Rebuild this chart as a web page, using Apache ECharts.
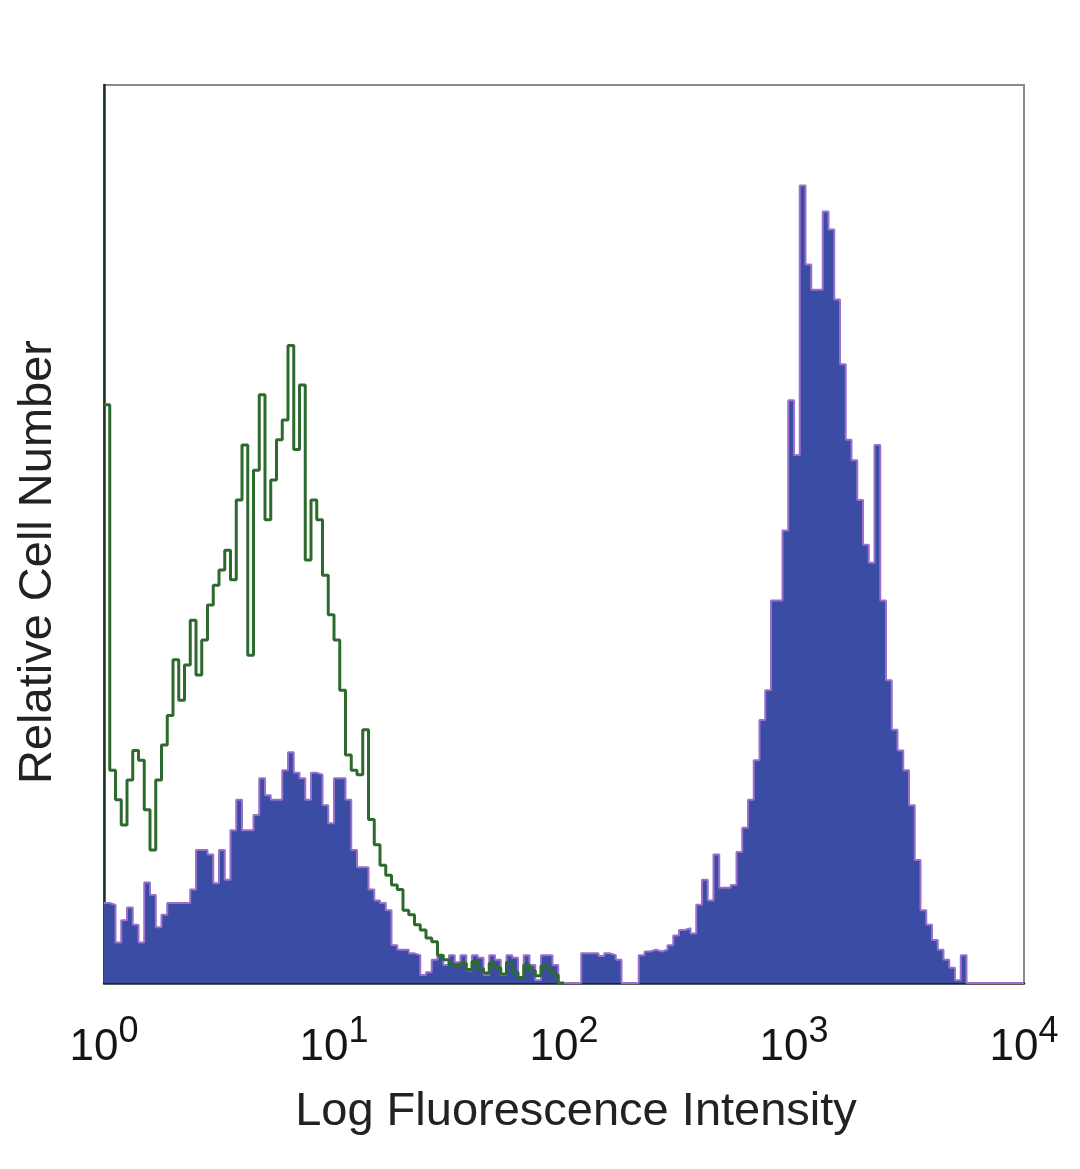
<!DOCTYPE html>
<html>
<head>
<meta charset="utf-8">
<script src="https://cdn.jsdelivr.net/npm/echarts@6/dist/echarts.min.js"></script>
<style>
html,body{margin:0;padding:0;background:#fff;}
#chart{width:1080px;height:1169px;}
</style>
</head>
<body>
<div id="chart"></div>
<script>
// Log decades on the x axis (10^0 .. 10^4), histogram bins of 0.025 decade
var decadeExponents = [0, 1, 2, 3, 4];
var binWidth = 0.025;
var xTitle = 'Log Fluorescence Intensity';
var yTitle = 'Relative Cell Number';

// Isotype control (green outline histogram), relative counts per bin
var controlCounts = [
  64.4, 23.7, 20.4, 17.6, 22.6, 25.9, 24.8, 19.3, 14.8, 22.6,
  26.5, 29.8, 36.0, 31.5, 35.4, 40.4, 34.3, 38.2, 42.1, 44.3,
  46.0, 48.2, 44.9, 53.8, 59.9, 36.5, 57.1, 65.5, 51.6, 56.0,
  60.5, 62.7, 71.0, 59.4, 66.6, 47.1, 53.8, 51.6, 45.4, 41.0,
  38.2, 32.6, 25.4, 23.7, 23.2, 28.2, 18.2, 15.4, 13.1, 12.0,
  10.9, 10.4, 8.1, 7.6, 6.5, 5.9, 5.0, 4.6, 3.1, 2.6,
  2.0, 1.8, 2.2, 1.5, 2.4, 1.6, 1.1, 2.2, 1.7, 1.0,
  2.3, 1.2, 0.6, 2.0, 1.4, 0.8, 1.9, 1.5, 0.9, 0
];

// Stained sample (blue filled histogram), relative counts per bin
var stainedCounts = [
  8.9, 8.7, 4.5, 7.0, 8.4, 6.5, 4.5, 11.2, 9.8, 6.2,
  7.6, 8.9, 8.9, 8.9, 8.9, 10.4, 14.8, 14.8, 14.3, 11.1,
  14.8, 11.5, 17.0, 20.4, 17.0, 17.0, 18.7, 22.8, 20.9, 20.4,
  20.4, 23.7, 25.7, 23.4, 22.8, 20.4, 23.4, 23.2, 19.8, 17.8,
  22.8, 22.8, 20.4, 14.8, 12.9, 12.9, 10.4, 9.2, 8.9, 8.1,
  4.2, 3.7, 3.7, 3.3, 3.1, 0.9, 1.2, 2.6, 3.1, 2.0,
  3.1, 2.3, 3.1, 1.4, 3.1, 2.8, 0.9, 3.1, 2.6, 0.9,
  3.1, 2.8, 0.6, 3.1, 2.0, 0.3, 3.1, 3.1, 2.0, 0,
  0, 0, 0, 3.3, 3.3, 3.3, 3.0, 3.3, 3.1, 2.6,
  0, 0, 0, 3.1, 3.5, 3.7, 3.5, 3.7, 4.2, 5.3,
  5.9, 6.1, 5.5, 8.7, 11.5, 9.2, 14.3, 10.6, 10.6, 10.9,
  14.6, 17.3, 20.4, 24.8, 29.3, 32.6, 42.6, 42.6, 50.4, 64.9,
  58.8, 88.8, 80.0, 77.2, 77.2, 85.9, 83.9, 76.1, 68.9, 60.5,
  58.2, 53.8, 48.8, 46.8, 59.9, 42.6, 33.7, 28.2, 25.9, 23.7,
  19.8, 13.7, 8.1, 6.5, 4.8, 3.7, 2.6, 1.7, 0.3, 3.1,
  0, 0, 0, 0, 0, 0, 0, 0, 0, 0
];

function toSteps(counts) {
  var pts = counts.map(function (v, i) { return [i * binWidth, v]; });
  pts.push([counts.length * binWidth, 0]);
  return pts;
}

var FONT = 'Liberation Sans';
var chart = echarts.init(document.getElementById('chart'), null, {renderer: 'canvas'});
chart.setOption({
  animation: false,
  backgroundColor: '#ffffff',
  grid: {left: 104, right: 56, top: 85, bottom: 186, show: true, borderColor: '#8a8a8a', borderWidth: 2, backgroundColor: 'transparent'},
  graphic: [
    {type: 'text', x: 576, y: 1089,
     style: {text: xTitle, font: '47px "Liberation Sans"', fill: '#222', align: 'center', verticalAlign: 'top'}},
    {type: 'text', x: 15, y: 562, rotation: Math.PI / 2,
     style: {text: yTitle, font: '47px "Liberation Sans"', fill: '#222', align: 'center', verticalAlign: 'top'}}
  ],
  xAxis: {
    type: 'value', min: 0, max: 4, interval: 1,
    axisLine: {show: true, onZero: false, lineStyle: {color: '#1c2a1c', width: 2.5}},
    axisTick: {show: false},
    splitLine: {show: false},
    axisLabel: {
      margin: 31,
      formatter: function (v) { return '{b|10}{s|' + decadeExponents[Math.round(v)] + '}'; },
      rich: {
        b: {fontFamily: FONT, fontSize: 44, lineHeight: 68, color: '#151515'},
        s: {fontFamily: FONT, fontSize: 36, lineHeight: 36, verticalAlign: 'top', color: '#151515'}
      }
    }
  },
  yAxis: {
    type: 'value', min: 0, max: 100,
    axisLine: {show: true, lineStyle: {color: '#1a331a', width: 2.5}},
    axisTick: {show: false}, axisLabel: {show: false}, splitLine: {show: false}
  },
  series: [
    {
      type: 'line', name: 'stained', step: 'end', symbol: 'none',
      data: toSteps(stainedCounts),
      lineStyle: {color: '#9a70cc', width: 2},
      areaStyle: {color: '#3a4ca3', opacity: 1},
      z: 2
    },
    {
      type: 'line', name: 'control', step: 'end', symbol: 'none',
      data: toSteps(controlCounts),
      lineStyle: {color: '#2c6a2e', width: 3},
      z: 3
    }
  ]
});
</script>
</body>
</html>
